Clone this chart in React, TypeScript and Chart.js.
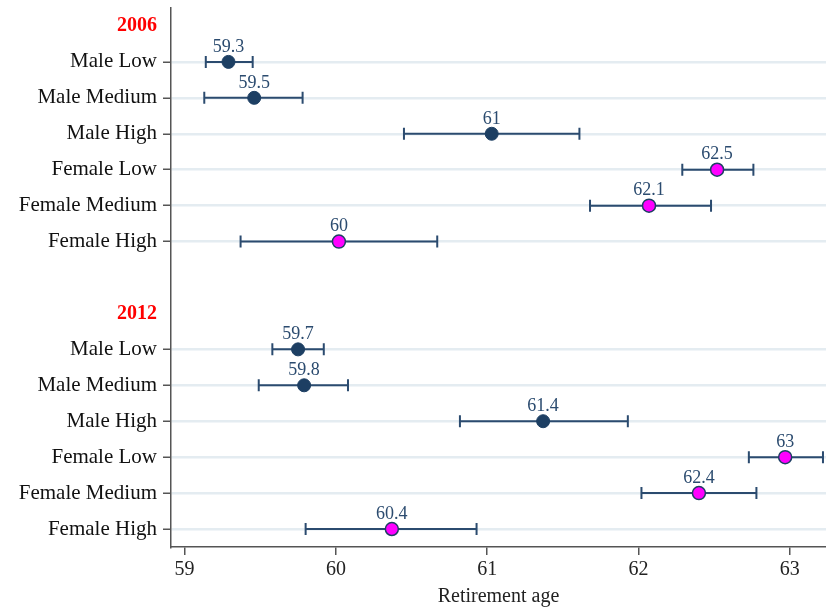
import { useEffect, useRef } from 'react'
import { Chart, registerables } from 'chart.js'

Chart.register(...registerables)

// y rows, top to bottom
const rowLabels = [
  '2006', 'Male Low', 'Male Medium', 'Male High', 'Female Low', 'Female Medium', 'Female High',
  '',
  '2012', 'Male Low', 'Male Medium', 'Male High', 'Female Low', 'Female Medium', 'Female High',
]
const headerRows = [0, 8]

const groups = ['Male Low', 'Male Medium', 'Male High', 'Female Low', 'Female Medium', 'Female High']
const isFemale = [false, false, false, true, true, true]

const est2006 = [59.29, 59.46, 61.03, 62.52, 62.07, 60.02]
const lo2006 = [59.14, 59.13, 60.45, 62.29, 61.68, 59.37]
const hi2006 = [59.45, 59.78, 61.61, 62.76, 62.48, 60.67]
const text2006 = ['59.3', '59.5', '61', '62.5', '62.1', '60']

const est2012 = [59.75, 59.79, 61.37, 62.97, 62.40, 60.37]
const lo2012 = [59.58, 59.49, 60.82, 62.73, 62.02, 59.80]
const hi2012 = [59.92, 60.08, 61.93, 63.22, 62.78, 60.93]
const text2012 = ['59.7', '59.8', '61.4', '63', '62.4', '60.4']

const xTicks = [59, 60, 61, 62, 63]

const NAVY = '#1d3f63'
const BAR = '#2b4b6f'
const SERIF = "'Liberation Serif', 'Times New Roman', serif"

type Pt = { x: number; y: number; lo: number; hi: number; text: string }

function buildPoints(female: boolean): Pt[] {
  const out: Pt[] = []
  const blocks = [
    { start: rowLabels.indexOf('2006') + 1, est: est2006, lo: lo2006, hi: hi2006, text: text2006 },
    { start: rowLabels.indexOf('2012') + 1, est: est2012, lo: lo2012, hi: hi2012, text: text2012 },
  ]
  blocks.forEach(b => {
    groups.forEach((_, i) => {
      if (isFemale[i] !== female) return
      out.push({ x: b.est[i], y: b.start + i, lo: b.lo[i], hi: b.hi[i], text: b.text[i] })
    })
  })
  return out
}

const errorBars = {
  id: 'errorBars',
  beforeDatasetsDraw(chart: any) {
    const { ctx, scales } = chart
    ctx.save()
    ctx.strokeStyle = BAR
    ctx.lineWidth = 2
    chart.data.datasets.forEach((ds: any) => {
      ds.data.forEach((p: Pt) => {
        const y = scales.y.getPixelForValue(p.y)
        const x1 = scales.x.getPixelForValue(p.lo)
        const x2 = scales.x.getPixelForValue(p.hi)
        ctx.beginPath()
        ctx.moveTo(x1, y)
        ctx.lineTo(x2, y)
        ctx.moveTo(x1, y - 6)
        ctx.lineTo(x1, y + 6)
        ctx.moveTo(x2, y - 6)
        ctx.lineTo(x2, y + 6)
        ctx.stroke()
      })
    })
    ctx.restore()
  },
  afterDatasetsDraw(chart: any) {
    const { ctx, scales } = chart
    ctx.save()
    ctx.fillStyle = BAR
    ctx.font = `18px ${SERIF}`
    ctx.textAlign = 'center'
    ctx.textBaseline = 'middle'
    chart.data.datasets.forEach((ds: any) => {
      ds.data.forEach((p: Pt) => {
        const x = scales.x.getPixelForValue(p.x)
        const y = scales.y.getPixelForValue(p.y)
        ctx.fillText(p.text, x, y - 15)
      })
    })
    ctx.restore()
  },
}

function noPadding(scale: any) {
  scale.paddingTop = 0
  scale.paddingBottom = 0
  scale.paddingLeft = 0
  scale.paddingRight = 0
}

export default function App() {
  const canvasRef = useRef<HTMLCanvasElement>(null)

  useEffect(() => {
    if (!canvasRef.current) return
    const chart = new Chart(canvasRef.current, {
      type: 'scatter',
      data: {
        datasets: [
          {
            label: 'Male',
            data: buildPoints(false),
            backgroundColor: NAVY,
            borderColor: NAVY,
            borderWidth: 1,
            pointRadius: 6.5,
          },
          {
            label: 'Female',
            data: buildPoints(true),
            backgroundColor: '#ff00ff',
            borderColor: NAVY,
            borderWidth: 1.5,
            pointRadius: 6.5,
          },
        ],
      },
      plugins: [errorBars],
      options: {
        animation: false,
        responsive: false,
        layout: { autoPadding: false, padding: { top: 8, right: 0, left: 0, bottom: 0 } },
        plugins: {
          legend: { display: false },
          tooltip: { enabled: false },
        },
        scales: {
          x: {
            type: 'linear',
            min: 58.91,
            max: 63.24,
            afterBuildTicks: (scale: any) => {
              scale.ticks = xTicks.map(v => ({ value: v }))
            },
            afterFit: (scale: any) => {
              scale.height = 63
              noPadding(scale)
            },
            border: { color: '#555', width: 1.5 },
            grid: { drawOnChartArea: false, tickLength: 8, color: '#555', lineWidth: 1.5 },
            ticks: {
              color: '#222',
              padding: 3,
              font: { family: SERIF, size: 20 },
            },
            title: {
              display: true,
              text: 'Retirement age',
              color: '#222',
              font: { family: SERIF, size: 20 },
              padding: { top: 0, bottom: 1 },
            },
          },
          y: {
            type: 'linear',
            reverse: true,
            min: -0.5,
            max: 14.5,
            afterBuildTicks: (scale: any) => {
              scale.ticks = rowLabels.map((_, i) => ({ value: i }))
            },
            afterFit: (scale: any) => {
              scale.width = 171
              noPadding(scale)
            },
            border: { color: '#555', width: 1.5 },
            grid: {
              tickLength: 8,
              lineWidth: 2.5,
              color: (c: any) => {
                const i = c.tick?.value
                return rowLabels[i] && !headerRows.includes(i) ? '#e4ecf1' : 'rgba(0,0,0,0)'
              },
              tickColor: (c: any) => {
                const i = c.tick?.value
                return rowLabels[i] && !headerRows.includes(i) ? '#555' : 'rgba(0,0,0,0)'
              },
              tickWidth: 1.5,
            },
            ticks: {
              padding: 6,
              autoSkip: false,
              callback: (v: any) => rowLabels[v] ?? '',
              color: (c: any) => (headerRows.includes(c.tick?.value) ? '#ff0000' : '#111'),
              font: (c: any) =>
                headerRows.includes(c.tick?.value)
                  ? { family: SERIF, size: 20, weight: 'bold' }
                  : { family: SERIF, size: 21 },
            },
          },
        },
      },
    } as any)
    return () => chart.destroy()
  }, [])

  return (
    <div style={{ position: 'absolute', left: 0, top: 0, width: 826, height: 610, background: '#fff' }}>
      <canvas ref={canvasRef} width={826} height={610}></canvas>
    </div>
  )
}
